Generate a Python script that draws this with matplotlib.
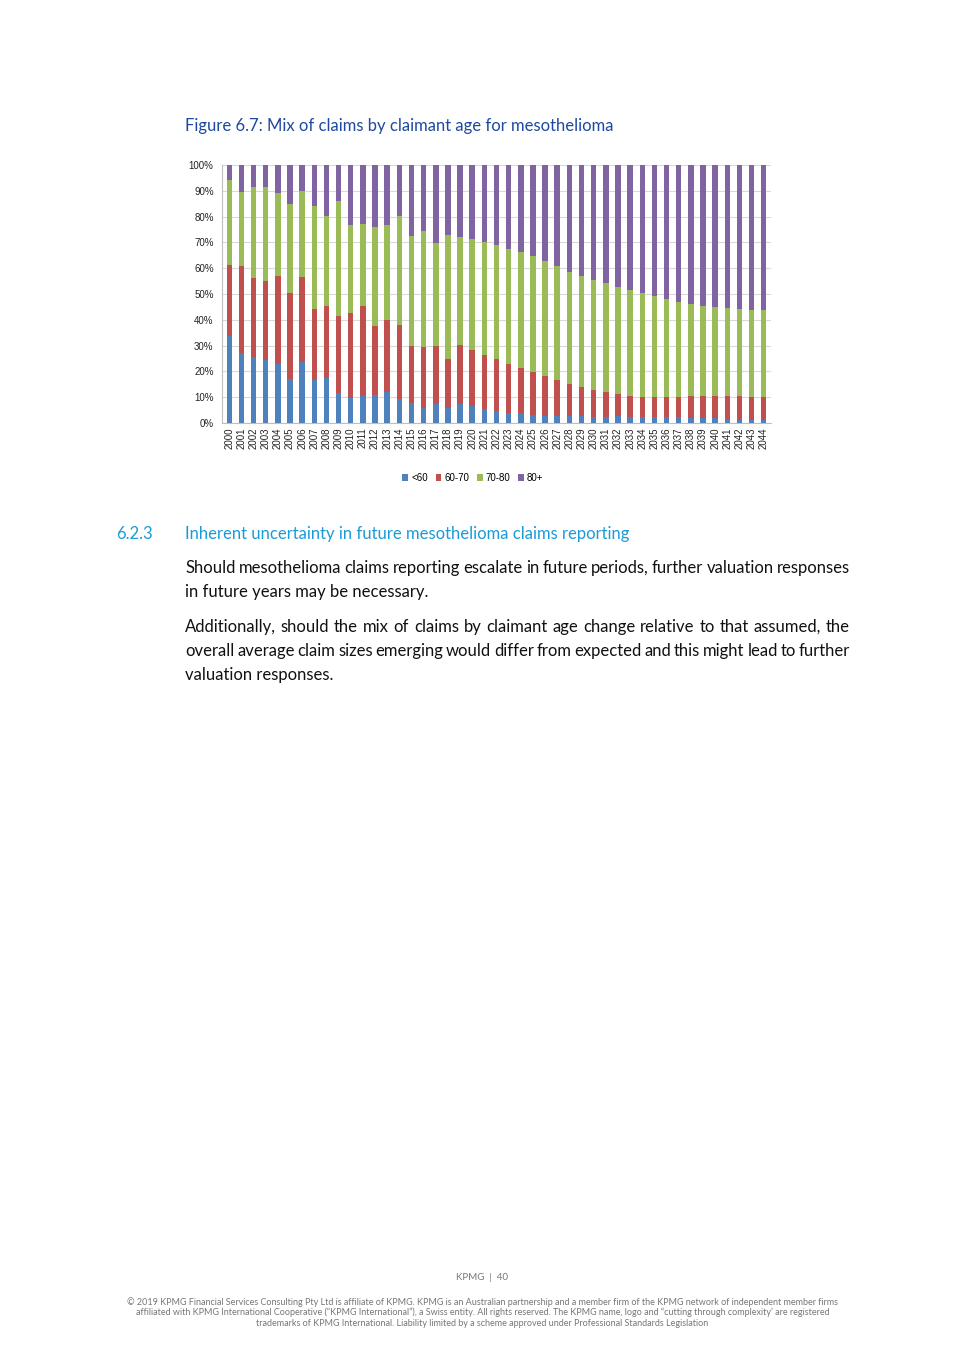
import matplotlib
matplotlib.use("Agg")
import matplotlib.pyplot as plt
from matplotlib.patches import Patch
import numpy as np

# chart data (share of claims by claimant age, %)
years = [str(y) for y in range(2000, 2045)]
under60 = [33.6, 27.3, 25.6, 24.3, 23.0, 17.1, 23.8, 16.6, 17.6, 11.8, 9.6, 10.3, 10.7,
           12.0, 9.4, 7.9, 6.0, 7.5, 5.8, 7.2, 6.5, 5.4, 4.5, 4.0, 3.8, 3.0, 2.8, 2.7, 2.7,
           2.7, 2.3, 2.3, 2.6, 2.5, 2.2, 2.2, 2.5, 2.3, 1.9, 1.9, 1.9, 1.6, 1.3, 1.0, 1.0]
cum60_70 = [61.2, 60.8, 56.3, 55.1, 57.1, 50.5, 56.7, 44.0, 45.5, 41.4, 42.7, 45.5, 37.5,
            39.8, 37.8, 29.9, 29.5, 29.9, 25.0, 30.1, 28.2, 26.5, 24.7, 22.9, 21.5, 19.7, 18.1, 16.6, 15.0,
            13.8, 12.9, 12.0, 11.1, 10.6, 10.1, 10.1, 10.1, 10.1, 10.3, 10.3, 10.5, 10.5, 10.5, 10.1, 10.1]
cum70_80 = [94.2, 89.6, 91.3, 91.6, 89.0, 84.7, 89.9, 84.3, 80.2, 86.0, 76.7, 77.2, 76.1,
            76.7, 80.2, 72.4, 74.4, 69.9, 72.8, 72.2, 71.2, 70.1, 69.0, 67.5, 66.1, 64.7, 62.7, 60.7, 58.7,
            57.1, 55.5, 54.1, 52.7, 51.5, 50.2, 49.2, 48.0, 47.0, 46.1, 45.4, 44.8, 44.4, 44.1, 43.9, 43.7]
series_names = ["<60", "60-70", "70-80", "80+"]
colors = ["#4F81BD", "#C0504D", "#9BBB59", "#8064A2"]

u60 = np.array(under60)
a6070 = np.array(cum60_70) - u60
a7080 = np.array(cum70_80) - np.array(cum60_70)
a80 = 100 - np.array(cum70_80)
parts = [u60, a6070, a7080, a80]

W, H = 965, 1365
fig = plt.figure(figsize=(W / 100, H / 100), dpi=100)
fig.patch.set_facecolor("white")

doc_font = ["Lato", "DejaVu Sans"]
chart_font = ["Liberation Sans", "DejaVu Sans"]
doc_w = "normal"
doc_size = 12

def fx(px):
    return px / W

def fy(py):
    return 1 - py / H

# chart axes
ax = fig.add_axes([fx(222), fy(423), fx(771) - fx(222), (423 - 165) / H])
x = np.arange(len(years))
bottom = np.zeros(len(years))
for vals, col in zip(parts, colors):
    ax.bar(x, vals / 100, width=0.45, bottom=bottom, color=col, zorder=3)
    bottom += vals / 100

ax.set_xlim(-0.6, len(years) - 0.4)
ax.set_ylim(0, 1)
ax.set_yticks(np.arange(0, 1.01, 0.1))
ax.set_yticklabels([f"{int(round(v * 100))}%" for v in np.arange(0, 1.01, 0.1)],
                   fontsize=7, family=chart_font, color="#222222")
ax.set_xticks(x)
ax.set_xticklabels(years, rotation=90, fontsize=7, family=chart_font, color="#222222")
ax.tick_params(length=0, pad=6)
ax.tick_params(axis="x", pad=3)
ax.grid(axis="y", color="#D9D9D9", linewidth=0.8, zorder=0)
for s in ["top", "right"]:
    ax.spines[s].set_visible(False)
for s in ["left", "bottom"]:
    ax.spines[s].set_color("#BFBFBF")
    ax.spines[s].set_linewidth(0.8)

handles = [Patch(facecolor=c, edgecolor="none") for c in colors]
fig.legend(handles, series_names, loc="center", bbox_to_anchor=(fx(473), fy(478)),
           ncol=4, frameon=False, handlelength=0.6, handleheight=0.6, handletextpad=0.3,
           columnspacing=0.8, prop={"family": chart_font, "size": 7})

# document text
fig.text(fx(185), fy(126), "Figure 6.7: Mix of claims by claimant age for mesothelioma",
         family=doc_font, fontsize=doc_size, weight=doc_w, color="#1E49A0", va="center")
fig.text(fx(116), fy(534), "6.2.3", family=doc_font, fontsize=doc_size, weight=doc_w,
         color="#1A9BD7", va="center")
fig.text(fx(185), fy(534), "Inherent uncertainty in future mesothelioma claims reporting",
         family=doc_font, fontsize=doc_size, weight=doc_w, color="#1A9BD7", va="center")

body = [
    ("Should mesothelioma claims reporting escalate in future periods, further valuation responses", 568, True),
    ("in future years may be necessary.", 592, False),
    ("Additionally, should the mix of claims by claimant age change relative to that assumed, the", 627, True),
    ("overall average claim sizes emerging would differ from expected and this might lead to further", 651, True),
    ("valuation responses.", 675, False),
]

renderer = fig.canvas.get_renderer()
left_px, right_px = 185, 850
for line, ypx, justify in body:
    if not justify:
        fig.text(fx(left_px), fy(ypx), line, family=doc_font, fontsize=doc_size, weight=doc_w,
                 color="#111111", va="center")
        continue
    words = line.split()
    objs = [fig.text(0, fy(ypx), w, family=doc_font, fontsize=doc_size, weight=doc_w,
                     color="#111111", va="center") for w in words]
    widths = [o.get_window_extent(renderer).width for o in objs]
    gap = (right_px - left_px - sum(widths)) / (len(words) - 1)
    pos = left_px
    for o, w in zip(objs, widths):
        o.set_x(fx(pos))
        pos += w + gap

fig.text(0.5, fy(1278), "KPMG  |  40", family=doc_font, fontsize=7, weight=doc_w,
         color="#777777", ha="center", va="center")
footer = [
    "\u00a9 2019 KPMG Financial Services Consulting Pty Ltd is affiliate of KPMG. KPMG is an Australian partnership and a member firm of the KPMG network of independent member firms",
    "affiliated with KPMG International Cooperative (\u201cKPMG International\u201d), a Swiss entity. All rights reserved. The KPMG name, logo and \u201ccutting through complexity\u2019 are registered",
    "trademarks of KPMG International. Liability limited by a scheme approved under Professional Standards Legislation",
]
for i, t in enumerate(footer):
    fig.text(0.5, fy(1302 + i * 10.5), t, family=doc_font, fontsize=6.5, weight=doc_w,
             color="#777777", ha="center", va="center")

fig.savefig("out.png", dpi=100, facecolor="white")
